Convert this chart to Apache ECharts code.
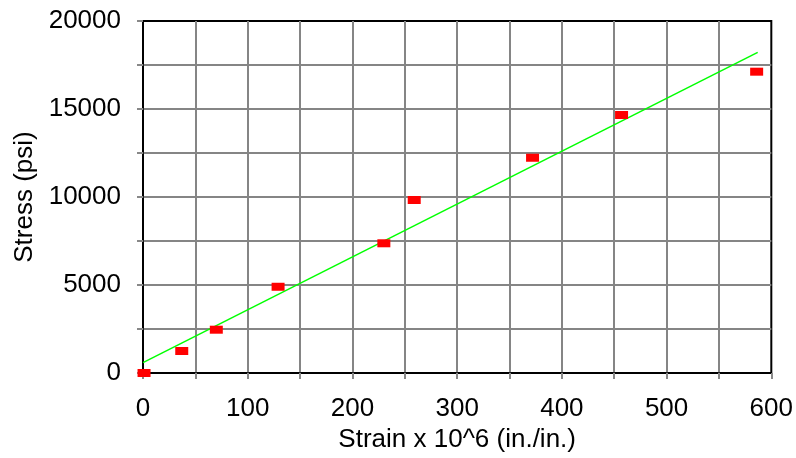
<!DOCTYPE html>
<html>
<head>
<meta charset="utf-8">
<script src="https://cdn.jsdelivr.net/npm/echarts@6/dist/echarts.min.js"></script>
<style>
  html, body { margin: 0; padding: 0; background: #fff; }
  #chart { width: 796px; height: 458px; }
</style>
</head>
<body>
<div id="chart"></div>
<script>
// 测量数据（应变 x 10^6，应力 psi）
const strain = [1, 37, 70, 129, 230, 259, 372, 457, 586];
const stress = [0, 1250, 2460, 4900, 7370, 9830, 12230, 14660, 17120];

// 拟合直线的两个端点
const fitStrain = [0, 587];
const fitStress = [585, 18220];

const xLabels = [0, 100, 200, 300, 400, 500, 600];
const yLabels = [0, 5000, 10000, 15000, 20000];

const font = 'Liberation Sans, Arial, sans-serif';

function initChart() {
    const chart = echarts.init(document.getElementById('chart'));
    chart.setOption({
        animation: false,
        grid: {
            left: 143, right: 20, top: 21, bottom: 85,
            show: true, borderColor: '#000', borderWidth: 2
        },
        xAxis: {
            type: 'value', min: 0, max: 600, interval: 50,
            name: 'Strain x 10^6 (in./in.)',
            nameLocation: 'middle', nameGap: 44,
            nameTextStyle: { fontFamily: font, fontSize: 26, color: '#000' },
            axisLine: { lineStyle: { color: '#000', width: 1.5 } },
            axisTick: { show: true, length: 6, lineStyle: { color: '#888', width: 2 } },
            axisLabel: {
                margin: 23, fontFamily: font, fontSize: 26, color: '#000',
                formatter: v => xLabels.includes(v) ? String(v) : ''
            },
            splitLine: { show: true, showMinLine: false, showMaxLine: false,
                lineStyle: { color: '#858585', width: 2 } }
        },
        yAxis: {
            type: 'value', min: 0, max: 20000, interval: 2500,
            name: 'Stress (psi)',
            nameLocation: 'middle', nameGap: 105,
            nameTextStyle: { fontFamily: font, fontSize: 26, color: '#000' },
            axisLine: { show: true, lineStyle: { color: '#000', width: 1.5 } },
            axisTick: { show: true, length: 6, lineStyle: { color: '#888', width: 2 } },
            axisLabel: {
                margin: 22, fontFamily: font, fontSize: 26, color: '#000',
                formatter: v => yLabels.includes(v) ? String(v) : ''
            },
            splitLine: { show: true, showMinLine: false, showMaxLine: false,
                lineStyle: { color: '#858585', width: 2 } }
        },
        series: [
            {
                type: 'line',
                data: fitStrain.map((x, i) => [x, fitStress[i]]),
                showSymbol: false,
                lineStyle: { color: '#00ff00', width: 1.5 },
                z: 3
            },
            {
                type: 'scatter',
                data: strain.map((x, i) => [x, stress[i]]),
                symbol: 'rect',
                symbolSize: [13, 8],
                itemStyle: { color: '#ff0000', opacity: 1 },
                z: 4
            }
        ]
    });
}

document.addEventListener('DOMContentLoaded', initChart);
</script>
</body>
</html>
